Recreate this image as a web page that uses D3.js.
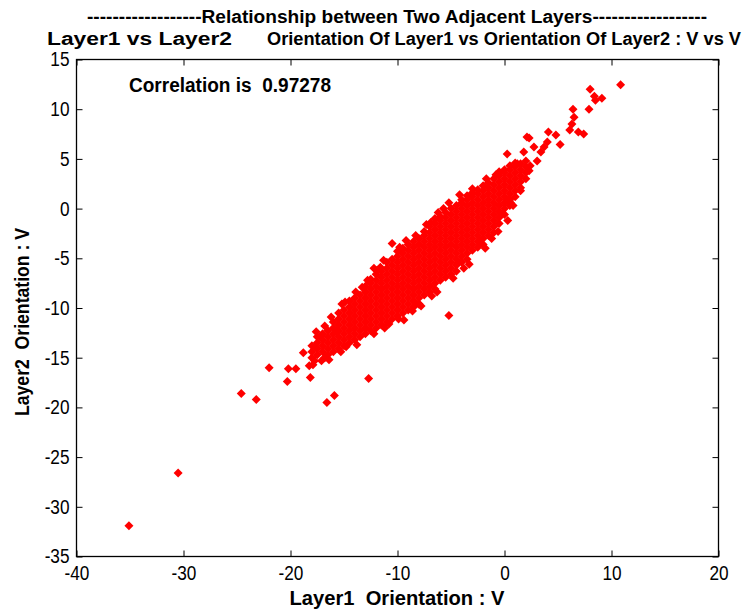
<!DOCTYPE html>
<html>
<head>
<meta charset="utf-8">
<script src="https://cdn.jsdelivr.net/npm/d3@7"></script>
<style>
  html, body { margin: 0; padding: 0; background: #fff; }
  svg { display: block; }
  text { font-family: "Liberation Sans", Arial, sans-serif; fill: #000; }
</style>
</head>
<body>
<script>
// ---- data ----
const xTicks = [-40, -30, -20, -10, 0, 10, 20];
const yTicks = [-35, -30, -25, -20, -15, -10, -5, 0, 5, 10, 15];
const xDomain = [-40, 20];
const yDomain = [-35, 15];

// dense core of the cloud, per column: [x, [y values]]
const coreColumns = [
  [-18.0, [-15.0, -14.4, -13.8]],
  [-17.5, [-14.7, -14.1, -13.5, -12.9]],
  [-17.0, [-14.4, -13.8, -13.2, -12.6]],
  [-16.5, [-14.7, -14.1, -13.5, -12.9, -12.3]],
  [-16.0, [-14.4, -13.8, -13.2, -12.6, -12.0, -11.4]],
  [-15.5, [-14.1, -13.5, -12.9, -12.3, -11.7, -11.1, -10.5]],
  [-15.0, [-13.8, -13.2, -12.6, -12.0, -11.4, -10.8, -10.2]],
  [-14.5, [-13.5, -12.9, -12.3, -11.7, -11.1, -10.5, -9.9, -9.3]],
  [-14.0, [-13.2, -12.6, -12.0, -11.4, -10.8, -10.2, -9.6, -9.0]],
  [-13.5, [-12.9, -12.3, -11.7, -11.1, -10.5, -9.9, -9.3, -8.7]],
  [-13.0, [-12.6, -12.0, -11.4, -10.8, -10.2, -9.6, -9.0, -8.4, -7.8]],
  [-12.5, [-12.3, -11.7, -11.1, -10.5, -9.9, -9.3, -8.7, -8.1, -7.5, -7.1]],
  [-12.0, [-12.0, -11.4, -10.8, -10.2, -9.6, -9.0, -8.4, -7.8, -7.2, -6.6]],
  [-11.5, [-11.7, -11.1, -10.5, -9.9, -9.3, -8.7, -8.1, -7.5, -6.9, -6.3]],
  [-11.0, [-11.4, -10.8, -10.2, -9.6, -9.0, -8.4, -7.8, -7.2, -6.6, -6.0, -5.4]],
  [-10.5, [-11.1, -10.5, -9.9, -9.3, -8.7, -8.1, -7.5, -6.9, -6.3, -5.7, -5.1]],
  [-10.0, [-10.8, -10.2, -9.6, -9.0, -8.4, -7.8, -7.2, -6.6, -6.0, -5.4, -4.8, -4.3]],
  [-9.5, [-10.5, -9.9, -9.3, -8.7, -8.1, -7.5, -6.9, -6.3, -5.7, -5.1, -4.5, -4.0]],
  [-9.0, [-10.2, -9.6, -9.0, -8.4, -7.8, -7.2, -6.6, -6.0, -5.4, -4.8, -4.2, -3.6]],
  [-8.5, [-9.9, -9.3, -8.7, -8.1, -7.5, -6.9, -6.3, -5.7, -5.1, -4.5, -3.9, -3.3]],
  [-8.0, [-9.6, -9.0, -8.4, -7.8, -7.2, -6.6, -6.0, -5.4, -4.8, -4.2, -3.6, -3.0]],
  [-7.5, [-8.7, -8.1, -7.5, -6.9, -6.3, -5.7, -5.1, -4.5, -3.9, -3.3, -2.7, -2.3]],
  [-7.0, [-8.4, -7.8, -7.2, -6.6, -6.0, -5.4, -4.8, -4.2, -3.6, -3.0, -2.4, -1.8]],
  [-6.5, [-8.1, -7.5, -6.9, -6.3, -5.7, -5.1, -4.5, -3.9, -3.3, -2.7, -2.1, -1.5, -1.0]],
  [-6.0, [-7.2, -6.6, -6.0, -5.4, -4.8, -4.2, -3.6, -3.0, -2.4, -1.8, -1.2, -0.8]],
  [-5.5, [-6.9, -6.3, -5.7, -5.1, -4.5, -3.9, -3.3, -2.7, -2.1, -1.5, -0.9, -0.4]],
  [-5.0, [-6.6, -6.0, -5.4, -4.8, -4.2, -3.6, -3.0, -2.4, -1.8, -1.2, -0.6, 0.0]],
  [-4.5, [-6.3, -5.7, -5.1, -4.5, -3.9, -3.3, -2.7, -2.1, -1.5, -0.9, -0.3, 0.3]],
  [-4.0, [-5.4, -4.8, -4.2, -3.6, -3.0, -2.4, -1.8, -1.2, -0.6, 0.0, 0.6, 0.9]],
  [-3.5, [-5.1, -4.5, -3.9, -3.3, -2.7, -2.1, -1.5, -0.9, -0.3, 0.3, 0.9, 1.3]],
  [-3.0, [-4.2, -3.6, -3.0, -2.4, -1.8, -1.2, -0.6, 0.0, 0.6, 1.2, 1.6]],
  [-2.5, [-3.9, -3.3, -2.7, -2.1, -1.5, -0.9, -0.3, 0.3, 0.9, 1.5, 1.9]],
  [-2.0, [-3.6, -3.0, -2.4, -1.8, -1.2, -0.6, 0.0, 0.6, 1.2, 1.8, 2.3]],
  [-1.5, [-2.7, -2.1, -1.5, -0.9, -0.3, 0.3, 0.9, 1.5, 2.1, 2.6]],
  [-1.0, [-2.4, -1.8, -1.2, -0.6, 0.0, 0.6, 1.2, 1.8, 2.4, 3.0]],
  [-0.5, [-1.5, -0.9, -0.3, 0.3, 0.9, 1.5, 2.1, 2.7, 3.3, 3.7]],
  [0.0, [-0.6, 0.0, 0.6, 1.2, 1.8, 2.4, 3.0, 3.6, 3.9]],
  [0.5, [0.3, 0.9, 1.5, 2.1, 2.7, 3.3, 3.9, 4.3]],
  [1.0, [1.2, 1.8, 2.4, 3.0, 3.6, 4.2, 4.6]],
  [1.5, [2.1, 2.7, 3.3, 3.9, 4.5]],
  [2.0, [3.0, 3.6, 4.2, 4.8]]
];

// sparse / isolated points around the cloud
const scatterPoints = [
  [-35.1, -31.9], [-30.5, -26.6], [-24.6, -18.6], [-23.2, -19.2], [-22.0, -16.0],
  [-20.2, -16.1], [-19.5, -16.1], [-20.3, -17.4], [-18.25, -15.8], [-18.15, -17.0],
  [-16.6, -19.5], [-15.9, -18.8], [-17.75, -15.3], [-17.1, -15.3], [-12.7, -17.1],
  [-9.4, -11.2], [-8.0, -9.6], [-5.2, -10.75], [-18.8, -14.5], [-17.7, -13.9],
  [-17.2, -12.9], [-15.7, -12.4], [-16.4, -15.2], [-10.5, -3.5], [-11.6, -5.9],
  [-5.2, 0.6], [-4.3, -5.4], [-2.3, -3.2], [-0.2, -0.5], [0.25, 5.5],
  [1.8, 5.7], [2.1, 7.2], [2.3, 7.1], [2.75, 6.2], [3.05, 4.8],
  [3.4, 5.7], [3.7, 6.2], [2.4, 4.3], [4.0, 6.7], [4.1, 7.7],
  [4.8, 7.4], [5.2, 6.45], [6.1, 7.9], [6.3, 8.5], [6.5, 9.2],
  [6.4, 10.0], [6.9, 7.7], [7.4, 7.5], [7.9, 10.0], [8.0, 12.0],
  [8.5, 10.9], [9.1, 11.1], [8.4, 11.3], [10.85, 12.45], [0.4, 1.0],
  [1.2, 4.5], [1.5, 1.8], [2.3, 3.8], [0.55, 0.6],
  [-13.9, -8.4], [-12.2, -6.0], [-9.2, -3.2], [-7.3, -1.6], [-6.2, -0.4],
  [-4.2, 1.4], [-3.0, 2.0], [-1.7, 3.0], [-0.8, 3.4], [-16.8, -11.8],
  [-14.8, -13.9], [-11.2, -12.0], [-8.6, -10.3], [-6.8, -8.8], [-3.8, -6.0],
  [-1.2, -3.0], [0.3, -1.2], [-15.2, -9.6],
  [-17.6, -12.4], [-16.2, -10.9], [-14.9, -9.4], [-13.3, -7.9], [-12.8, -7.2],
  [-11.9, -6.2], [-11.3, -5.2], [-9.8, -3.9], [-8.3, -2.7], [-6.9, -1.4],
  [-5.7, 0.0], [-17.9, -15.7], [-16.8, -15.0], [-15.3, -14.4], [-13.8, -13.7],
  [-12.2, -12.6], [-10.8, -11.6], [-9.9, -11.1], [-7.8, -9.8], [-6.3, -8.4],
  [-4.8, -7.0], [-3.3, -5.6], [-1.8, -4.0], [-0.6, -2.3], [0.8, 0.3]
];

const titleLine1 = "------------------Relationship between Two Adjacent Layers------------------";
const titleLine2a = "Layer1 vs Layer2";
const titleLine2b = "Orientation Of Layer1 vs Orientation Of Layer2 : V vs V";
const corrText = "Correlation is  0.97278";
const xLabel = "Layer1  Orientation : V";
const yLabel = "Layer2  Orientation : V";

// ---- drawing ----
const W = 747, H = 611;
const L = 76.5, R = 718.5, T = 59.5, B = 556.5;

const svg = d3.select("body").append("svg")
  .attr("width", W).attr("height", H)
  .attr("viewBox", `0 0 ${W} ${H}`);
svg.append("rect").attr("width", W).attr("height", H).attr("fill", "#fff");

const x = d3.scaleLinear().domain(xDomain).range([L, R]);
const y = d3.scaleLinear().domain(yDomain).range([B, T]);

const allPoints = [];
coreColumns.forEach(([cx, ys]) => ys.forEach(cy => allPoints.push([cx, cy])));
scatterPoints.forEach(p => allPoints.push(p));

// markers (filled diamonds)
const r = 4.5;
const diamond = `M0,${-r}L${r},0L0,${r}L${-r},0Z`;
svg.append("g").selectAll("path")
  .data(allPoints).join("path")
  .attr("d", diamond)
  .attr("transform", d => `translate(${x(d[0])},${y(d[1])})`)
  .attr("fill", "#ff0000");

// axes (ticks inward, box)
const fmt = d => String(d);
const gx = svg.append("g").attr("transform", `translate(0,${B})`)
  .call(d3.axisBottom(x).tickValues(xTicks).tickFormat(fmt).tickSizeInner(-6).tickSizeOuter(0).tickPadding(9.5));
const gy = svg.append("g").attr("transform", `translate(${L},0)`)
  .call(d3.axisLeft(y).tickValues(yTicks).tickFormat(fmt).tickSizeInner(-6).tickSizeOuter(0).tickPadding(7));
const gt = svg.append("g").attr("transform", `translate(0,${T})`)
  .call(d3.axisTop(x).tickValues(xTicks).tickSizeInner(-6).tickSizeOuter(0).tickFormat(""));
const gr = svg.append("g").attr("transform", `translate(${R},0)`)
  .call(d3.axisRight(y).tickValues(yTicks).tickSizeInner(-6).tickSizeOuter(0).tickFormat(""));

[gx, gy, gt, gr].forEach(g => {
  g.select(".domain").remove();
  g.selectAll(".tick line").attr("stroke", "#000").attr("stroke-width", 1);
  g.selectAll(".tick text")
    .style("font-family", '"Liberation Sans", Arial, sans-serif')
    .style("font-size", "20px").attr("fill", "#000")
    .each(function() {
      const len = this.getComputedTextLength();
      if (len > 0) d3.select(this).attr("textLength", len * 0.86).attr("lengthAdjust", "spacingAndGlyphs");
    });
});

svg.append("rect")
  .attr("x", L).attr("y", T).attr("width", R - L).attr("height", B - T)
  .attr("fill", "none").attr("stroke", "#000").attr("stroke-width", 1.3);

// texts
function txt(s, px, py, len, opts = {}) {
  const t = svg.append("text")
    .attr("x", px).attr("y", py)
    .style("font-size", (opts.size || 20) + "px")
    .style("font-weight", opts.bold === false ? "normal" : "bold")
    .style("white-space", "pre")
    .attr("text-anchor", opts.anchor || "start")
    .text(s);
  if (len) t.attr("textLength", len).attr("lengthAdjust", "spacingAndGlyphs");
  if (opts.rotate) t.attr("transform", `rotate(${opts.rotate},${px},${py})`);
  return t;
}

txt(titleLine1, 87, 23, 620, {size: 18});
txt(titleLine2a, 47, 45, 185, {size: 18});
txt(titleLine2b, 267, 45, 474, {size: 18});
txt(corrText, 129, 92, 202, {size: 20});
txt(xLabel, 397, 605, 215, {size: 20, anchor: "middle"});
txt(yLabel, 29, 322, 188, {size: 20, anchor: "middle", rotate: -90});
</script>
</body>
</html>
